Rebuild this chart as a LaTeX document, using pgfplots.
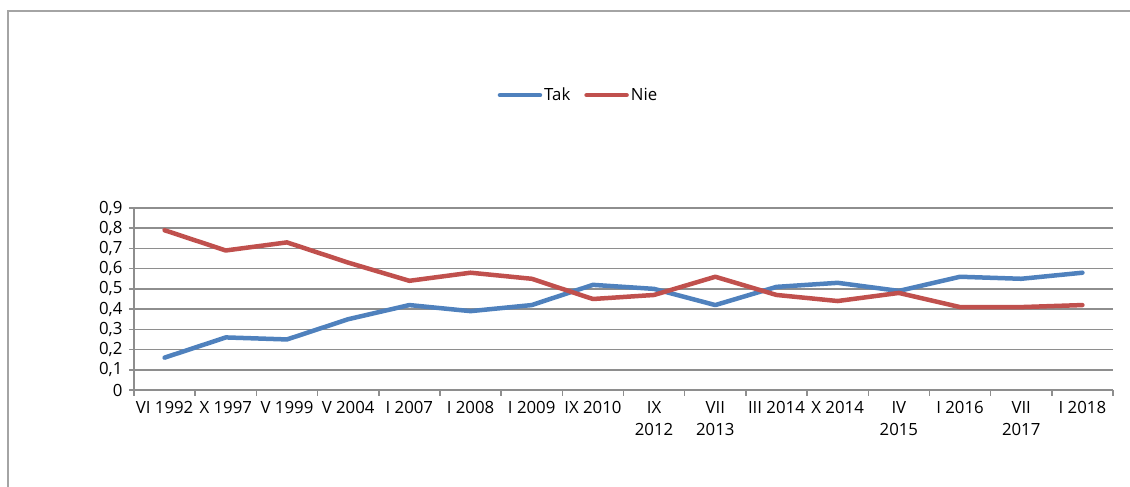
\documentclass[border=0pt]{standalone}
\usepackage{fontspec}
\setmainfont{Open Sans}
\usepackage{pgfplots}
\pgfplotsset{compat=1.18}
\definecolor{takblue}{HTML}{4F81BD}
\definecolor{niered}{HTML}{C0504D}
\definecolor{gridgray}{HTML}{8E8E8E}
\begin{document}
\begin{tikzpicture}[x=1pt,y=1pt]
\useasboundingbox (0,0) rectangle (1130,487);
\draw[gridgray!80, line width=1.5pt] (8,0) -- (8,476) -- (1130,476);
\begin{axis}[
  at={(134pt,97pt)}, anchor=south west,
  scale only axis, width=979pt, height=182pt,
  xmin=-0.5, xmax=15.5, ymin=0, ymax=0.9,
  separate axis lines,
  axis x line*=bottom, axis y line*=left,
  axis line style={gridgray, line width=1.5pt, -},
  xtick={0,...,15},
  xticklabels={VI 1992, X 1997, V 1999, V 2004, I 2007, I 2008, I 2009, IX 2010, IX\\2012, VII\\2013, III 2014, X 2014, IV\\2015, I 2016, VII\\2017, I 2018},
  minor xtick={-0.5,0.5,...,15.5},
  ytick={0,0.1,0.2,0.3,0.4,0.5,0.6,0.7,0.8,0.9},
  tick align=outside,
  major tick length=5pt, minor tick length=6pt,
  major x tick style={draw=none},
  tick style={gridgray, line width=1.5pt},
  ymajorgrids, grid style={gridgray, line width=1.5pt},
  /pgf/number format/assume math mode=true,
  /pgf/number format/use comma,
  yticklabel={\pgfmathprintnumber[fixed,precision=1]{\tick}},
  ticklabel style={font=\fontsize{16.8}{22}\selectfont, text=black},
  xticklabel style={align=center, yshift=-3pt},
  yticklabel style={xshift=-3pt},
  legend columns=2,
  legend style={draw=none, fill=none, at={(rel axis cs:0.454,1.62)}, anchor=center,
    font=\fontsize{16.8}{20}\selectfont,
    /tikz/every even column/.append style={column sep=12pt}},
  legend image code/.code={\draw[#1, line width=4.5pt, line cap=round] (0pt,0pt) -- (40pt,0pt);},
  clip=false,
]
\addplot[takblue, line width=4.5pt, line join=round, line cap=round] coordinates {
(0,0.16) (1,0.26) (2,0.25) (3,0.35) (4,0.42) (5,0.39) (6,0.42) (7,0.52)
(8,0.50) (9,0.42) (10,0.51) (11,0.53) (12,0.49) (13,0.56) (14,0.55) (15,0.58)};
\addlegendentry{Tak}
\addplot[niered, line width=4.5pt, line join=round, line cap=round] coordinates {
(0,0.79) (1,0.69) (2,0.73) (3,0.63) (4,0.54) (5,0.58) (6,0.55) (7,0.45)
(8,0.47) (9,0.56) (10,0.47) (11,0.44) (12,0.48) (13,0.41) (14,0.41) (15,0.42)};
\addlegendentry{Nie}
\end{axis}
\end{tikzpicture}
\end{document}
